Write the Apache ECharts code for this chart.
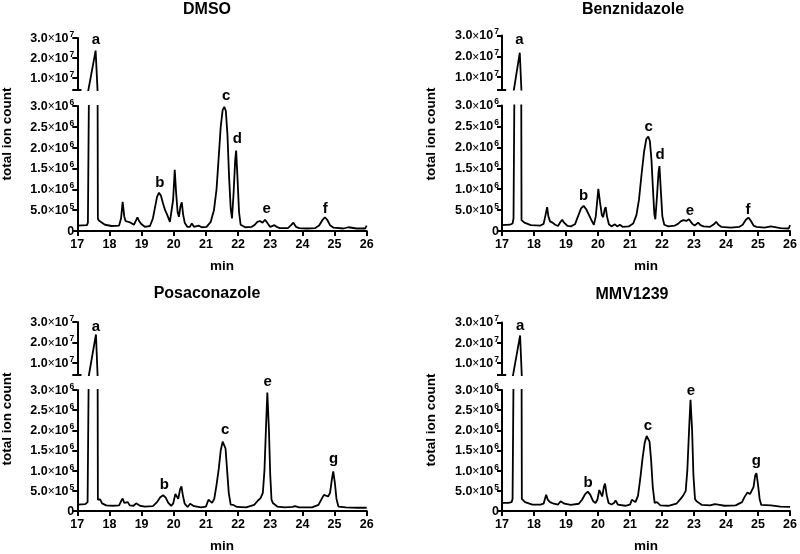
<!DOCTYPE html>
<html><head><meta charset="utf-8">
<script src="https://cdn.jsdelivr.net/npm/echarts@6/dist/echarts.min.js"></script>
<style>html,body{margin:0;padding:0;background:#fff}#c{width:800px;height:554px}</style>
</head><body><div id="c"></div>
<script>
// ---------- DATA (time in min, signal in millions of counts) ----------
const panelTitles = ['DMSO', 'Benznidazole', 'Posaconazole', 'MMV1239'];
const xTitle = 'min';
const yTitle = 'total ion count';
const timeRange = [17, 26];
const lowerTicks = [0, 0.5, 1, 1.5, 2, 2.5, 3];
const lowerTickLabels = ['0', '5.0×10^5', '1.0×10^6', '1.5×10^6', '2.0×10^6', '2.5×10^6', '3.0×10^6'];
const upperTicks = [10, 20, 30];
const upperTickLabels = ['1.0×10^7', '2.0×10^7', '3.0×10^7'];
const breakRange = [4, 30];

const dmsoTrace = [[17.00,0.13],[17.30,0.14],[17.33,0.20],[17.57,23.7],[17.64,0.30],[17.67,0.25],[17.71,0.29],[17.77,0.20],[17.86,0.15],[18.07,0.12],[18.30,0.13],[18.36,0.30],[18.41,0.70],[18.46,0.35],[18.50,0.24],[18.56,0.22],[18.66,0.20],[18.76,0.15],[18.83,0.26],[18.87,0.33],[18.92,0.24],[19.00,0.16],[19.10,0.10],[19.26,0.12],[19.35,0.30],[19.42,0.58],[19.48,0.82],[19.54,0.92],[19.60,0.85],[19.66,0.68],[19.73,0.50],[19.80,0.38],[19.88,0.22],[19.94,0.20],[19.98,0.75],[20.03,1.47],[20.07,0.95],[20.12,0.45],[20.16,0.34],[20.21,0.60],[20.25,0.69],[20.29,0.40],[20.34,0.20],[20.42,0.10],[20.50,0.10],[20.56,0.18],[20.63,0.10],[20.77,0.13],[20.87,0.09],[21.02,0.10],[21.15,0.22],[21.25,0.50],[21.33,1.00],[21.40,1.80],[21.46,2.50],[21.52,2.90],[21.57,2.98],[21.62,2.88],[21.67,2.30],[21.72,1.30],[21.77,0.55],[21.81,0.30],[21.86,0.90],[21.91,1.70],[21.94,1.93],[21.98,1.30],[22.03,0.45],[22.08,0.15],[22.22,0.09],[22.43,0.10],[22.52,0.15],[22.60,0.22],[22.68,0.24],[22.76,0.20],[22.84,0.27],[22.88,0.28],[22.94,0.16],[23.00,0.10],[23.06,0.09],[23.13,0.14],[23.20,0.10],[23.30,0.07],[23.55,0.07],[23.65,0.14],[23.72,0.20],[23.80,0.10],[23.90,0.07],[24.14,0.06],[24.40,0.07],[24.52,0.13],[24.62,0.26],[24.70,0.33],[24.77,0.27],[24.86,0.14],[24.97,0.08],[25.28,0.06],[25.43,0.09],[25.69,0.06],[25.95,0.06],[26.00,0.13]];

const benzTrace = [[17.00,0.14],[17.25,0.15],[17.33,0.18],[17.36,0.30],[17.55,21.7],[17.61,0.26],[17.66,0.25],[17.70,0.20],[17.76,0.16],[17.90,0.14],[18.20,0.13],[18.30,0.17],[18.36,0.38],[18.41,0.57],[18.45,0.35],[18.50,0.23],[18.58,0.20],[18.66,0.15],[18.75,0.12],[18.83,0.22],[18.88,0.27],[18.94,0.20],[19.05,0.12],[19.15,0.11],[19.28,0.16],[19.38,0.36],[19.47,0.54],[19.55,0.60],[19.63,0.52],[19.72,0.38],[19.80,0.25],[19.87,0.15],[19.93,0.35],[20.01,1.01],[20.06,0.70],[20.12,0.38],[20.16,0.33],[20.21,0.52],[20.24,0.57],[20.28,0.35],[20.34,0.16],[20.42,0.11],[20.53,0.16],[20.60,0.11],[20.68,0.15],[20.77,0.10],[20.96,0.11],[21.10,0.18],[21.20,0.38],[21.28,0.75],[21.36,1.35],[21.44,1.90],[21.51,2.20],[21.57,2.26],[21.62,2.15],[21.67,1.70],[21.72,0.95],[21.76,0.40],[21.79,0.28],[21.84,0.80],[21.89,1.40],[21.92,1.55],[21.96,1.00],[22.01,0.35],[22.07,0.15],[22.20,0.11],[22.40,0.13],[22.50,0.17],[22.58,0.23],[22.67,0.26],[22.76,0.24],[22.84,0.28],[22.88,0.29],[22.95,0.17],[23.02,0.13],[23.07,0.14],[23.13,0.20],[23.20,0.14],[23.30,0.11],[23.50,0.10],[23.62,0.16],[23.69,0.22],[23.76,0.15],[23.85,0.10],[24.15,0.08],[24.42,0.10],[24.52,0.15],[24.62,0.27],[24.70,0.32],[24.77,0.25],[24.86,0.13],[24.95,0.10],[25.20,0.08],[25.40,0.11],[25.70,0.07],[25.96,0.06],[26.00,0.14]];

const posacTrace = [[17.00,0.16],[17.25,0.17],[17.32,0.22],[17.34,0.25],[17.58,23.9],[17.64,0.28],[17.67,0.25],[17.71,0.29],[17.77,0.19],[17.90,0.14],[18.10,0.13],[18.30,0.14],[18.36,0.24],[18.41,0.31],[18.46,0.20],[18.52,0.17],[18.57,0.22],[18.63,0.14],[18.75,0.13],[18.83,0.19],[18.87,0.22],[18.95,0.13],[19.10,0.11],[19.35,0.12],[19.48,0.22],[19.58,0.34],[19.67,0.39],[19.75,0.33],[19.83,0.20],[19.92,0.13],[19.98,0.18],[20.05,0.42],[20.09,0.46],[20.14,0.30],[20.20,0.55],[20.24,0.61],[20.28,0.40],[20.34,0.18],[20.43,0.10],[20.51,0.18],[20.56,0.22],[20.63,0.12],[20.85,0.09],[21.00,0.11],[21.08,0.28],[21.13,0.31],[21.19,0.20],[21.26,0.30],[21.33,0.65],[21.40,1.05],[21.46,1.50],[21.52,1.72],[21.56,1.74],[21.61,1.55],[21.66,1.00],[21.71,0.45],[21.77,0.16],[21.85,0.15],[21.90,0.17],[21.97,0.10],[22.25,0.09],[22.50,0.15],[22.62,0.26],[22.70,0.32],[22.77,0.45],[22.82,1.00],[22.87,2.10],[22.91,2.94],[22.96,2.00],[23.00,0.90],[23.04,0.28],[23.08,0.20],[23.13,0.17],[23.22,0.11],[23.45,0.09],[23.70,0.10],[23.77,0.12],[23.90,0.09],[24.30,0.09],[24.50,0.15],[24.60,0.30],[24.67,0.40],[24.72,0.43],[24.80,0.36],[24.86,0.45],[24.92,0.80],[24.96,0.98],[25.01,0.70],[25.06,0.30],[25.12,0.11],[25.35,0.09],[25.70,0.08],[26.00,0.08]];

const mmvTrace = [[17.00,0.20],[17.20,0.20],[17.30,0.22],[17.33,0.30],[17.56,23.6],[17.62,0.30],[17.68,0.28],[17.72,0.22],[17.78,0.20],[17.95,0.16],[18.20,0.16],[18.30,0.18],[18.35,0.32],[18.38,0.40],[18.43,0.28],[18.50,0.22],[18.55,0.26],[18.62,0.18],[18.75,0.16],[18.83,0.24],[18.87,0.28],[18.95,0.18],[19.15,0.15],[19.40,0.18],[19.50,0.28],[19.60,0.42],[19.68,0.48],[19.76,0.40],[19.85,0.24],[19.92,0.20],[19.98,0.28],[20.04,0.52],[20.07,0.54],[20.13,0.36],[20.19,0.62],[20.22,0.68],[20.27,0.40],[20.33,0.20],[20.42,0.16],[20.50,0.20],[20.55,0.26],[20.62,0.16],[20.85,0.13],[21.00,0.16],[21.06,0.28],[21.10,0.32],[21.17,0.22],[21.25,0.38],[21.32,0.80],[21.39,1.30],[21.46,1.70],[21.52,1.86],[21.56,1.88],[21.61,1.72],[21.66,1.25],[21.71,0.60],[21.77,0.20],[21.84,0.22],[21.88,0.26],[21.95,0.14],[22.20,0.13],[22.45,0.18],[22.58,0.30],[22.66,0.38],[22.74,0.50],[22.79,1.00],[22.85,2.10],[22.89,2.76],[22.94,2.00],[22.98,0.90],[23.03,0.30],[23.08,0.24],[23.13,0.20],[23.25,0.15],[23.50,0.14],[23.65,0.17],[23.71,0.20],[23.80,0.15],[23.95,0.13],[24.30,0.14],[24.50,0.22],[24.58,0.35],[24.67,0.46],[24.75,0.42],[24.80,0.38],[24.86,0.60],[24.91,0.88],[24.95,0.94],[25.00,0.65],[25.05,0.30],[25.10,0.15],[25.40,0.14],[25.70,0.11],[26.00,0.10]];

// peak letters: [letter, time, signal (millions)]
const dmsoPeaks = [['a',17.58,29.0],['b',19.57,1.16],['c',21.63,3.25],['d',21.98,2.2],['e',22.89,0.52],['f',24.71,0.52]];
const benzPeaks = [['a',17.54,27.8],['b',19.55,0.85],['c',21.58,2.49],['d',21.94,1.81],['e',22.87,0.49],['f',24.69,0.51]];
const posacPeaks = [['a',17.58,27.8],['b',19.71,0.66],['c',21.6,2.02],['e',22.92,3.19],['g',24.97,1.30]];
const mmvPeaks = [['a',17.56,28.3],['b',19.69,0.7],['c',21.56,2.12],['e',22.9,2.98],['g',24.95,1.24]];

// ---------- LAYOUT ----------
const traces = [dmsoTrace, benzTrace, posacTrace, mmvTrace];
const peaks = [dmsoPeaks, benzPeaks, posacPeaks, mmvPeaks];
const layout = [
  {left: 77.3, width: 289.4, upTop: 38, upH: 52, lowTop: 106, lowH: 125, tx: 207, ty: 10, nx: 7, ny: 134},
  {left: 502, width: 291, upTop: 35.5, upH: 54, lowTop: 105.5, lowH: 125.5, tx: 633, ty: 10, nx: 431, ny: 134},
  {left: 77.3, width: 289.4, upTop: 322, upH: 53, lowTop: 390, lowH: 125, tx: 207, ty: 294, nx: 7, ny: 419},
  {left: 502, width: 291, upTop: 322.5, upH: 52.5, lowTop: 390, lowH: 125, tx: 632, ty: 295, nx: 431, ny: 420}
];
const FONT = '"Liberation Sans", Arial, Helvetica, sans-serif';
const rich = {
  m: {fontFamily: FONT, fontSize: 12.5, fontWeight: 'bold', color: '#000', verticalAlign: 'bottom', lineHeight: 14},
  x: {fontFamily: FONT, fontSize: 12, fontWeight: 'normal', color: '#000', verticalAlign: 'bottom', lineHeight: 14},
  s: {fontFamily: FONT, fontSize: 8.5, fontWeight: 'bold', color: '#000', verticalAlign: 'bottom', lineHeight: 9, padding: [0, 0, 6, 1]}
};
function fmt(label) {
  if (label.indexOf('^') < 0) return '{m|' + label + '}';
  const parts = label.split('^');
  const mant = parts[0].replace('×10', '');
  return '{m|' + mant + '}{x|×}{m|10}{s|' + parts[1] + '}';
}
function lookup(ticks, labels, v) {
  for (let i = 0; i < ticks.length; i++) if (Math.abs(ticks[i] - v) < 1e-9) return fmt(labels[i]);
  return '';
}
const axisLineStyle = {color: '#000', width: 2};
const grid = [], xAxis = [], yAxis = [], series = [], graphic = [];
layout.forEach((L, p) => {
  const gu = 2 * p, gl = 2 * p + 1;
  grid.push({left: L.left, width: L.width, top: L.upTop, height: L.upH});
  grid.push({left: L.left, width: L.width, top: L.lowTop, height: L.lowH});
  xAxis.push({gridIndex: gu, type: 'value', min: timeRange[0], max: timeRange[1], show: false});
  xAxis.push({gridIndex: gl, type: 'value', min: timeRange[0], max: timeRange[1], interval: 1,
    axisLine: {onZero: false, lineStyle: axisLineStyle},
    axisTick: {length: 5, lineStyle: {color: '#000', width: 2}},
    axisLabel: {fontFamily: FONT, fontSize: 12.5, fontWeight: 'bold', color: '#000', margin: 7},
    splitLine: {show: false},
    name: xTitle, nameLocation: 'middle', nameGap: 28,
    nameTextStyle: {fontFamily: FONT, fontSize: 13.5, fontWeight: 'bold', color: '#000'}});
  yAxis.push({gridIndex: gu, type: 'value', min: breakRange[0], max: breakRange[1],
    axisLine: {onZero: false, lineStyle: axisLineStyle},
    axisTick: {length: 5, lineStyle: {color: '#000', width: 2}, customValues: [breakRange[0]].concat(upperTicks)},
    axisLabel: {customValues: upperTicks, margin: 3, formatter: v => lookup(upperTicks, upperTickLabels, v), rich: rich},
    splitLine: {show: false}});
  yAxis.push({gridIndex: gl, type: 'value', min: lowerTicks[0], max: lowerTicks[lowerTicks.length - 1], interval: 0.5,
    axisLine: {onZero: false, lineStyle: axisLineStyle},
    axisTick: {length: 5, lineStyle: {color: '#000', width: 2}},
    axisLabel: {margin: 3, formatter: v => lookup(lowerTicks, lowerTickLabels, v), rich: rich},
    splitLine: {show: false}});
  const lineOpts = {type: 'line', showSymbol: false, symbol: 'none', clip: true, animation: false,
    lineStyle: {color: '#000', width: 1.8}, data: traces[p]};
  series.push(Object.assign({}, lineOpts, {xAxisIndex: gu, yAxisIndex: gu,
    markLine: {silent: true, symbol: 'none', animation: false, label: {show: false},
      lineStyle: {color: '#000', width: 2, type: 'solid'},
      data: [[{coord: [timeRange[0], breakRange[0]]}, {coord: [timeRange[0] + 0.13, breakRange[0]]}]]}}));
  series.push(Object.assign({}, lineOpts, {xAxisIndex: gl, yAxisIndex: gl}));
  const up = peaks[p].filter(d => d[2] > 5), lo = peaks[p].filter(d => d[2] <= 5);
  const lab = {show: true, position: 'inside', formatter: '{b}', fontFamily: FONT, fontSize: 15, fontWeight: 'bold', color: '#000', opacity: 1};
  const sc = {type: 'scatter', clip: false, symbolSize: 1, animation: false, silent: true, z: 5,
    itemStyle: {color: 'rgba(0,0,0,0)', opacity: 1}, label: lab};
  series.push(Object.assign({}, sc, {xAxisIndex: gu, yAxisIndex: gu, data: up.map(d => ({name: d[0], value: [d[1], d[2]]}))}));
  series.push(Object.assign({}, sc, {xAxisIndex: gl, yAxisIndex: gl, data: lo.map(d => ({name: d[0], value: [d[1], d[2]]}))}));
  graphic.push({type: 'text', x: L.tx, y: L.ty, silent: true,
    style: {text: panelTitles[p], font: 'bold 16px ' + FONT, fill: '#000', align: 'center', verticalAlign: 'middle', textAlign: 'center', textVerticalAlign: 'middle'}});
  graphic.push({type: 'text', x: L.nx, y: L.ny, rotation: Math.PI / 2, silent: true,
    style: {text: yTitle, font: 'bold 13.5px ' + FONT, fill: '#000', align: 'center', verticalAlign: 'middle', textAlign: 'center', textVerticalAlign: 'middle'}});
});
const chart = echarts.init(document.getElementById('c'), null, {renderer: 'canvas'});
chart.setOption({animation: false, backgroundColor: '#fff', grid, xAxis, yAxis, series, graphic});
</script></body></html>
